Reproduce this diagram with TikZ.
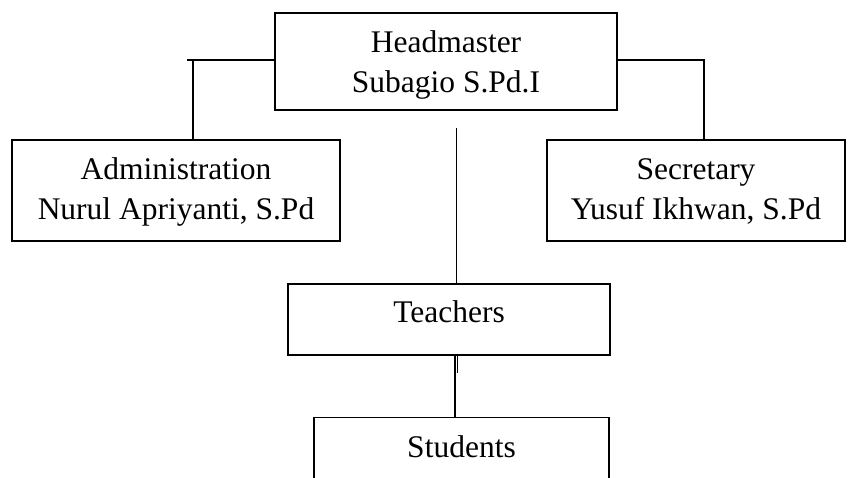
\documentclass[tikz,border=0pt]{standalone}
\usepackage{fontspec}
\setmainfont{Liberation Serif}
\newcommand{\boxtext}[2]{\raisebox{#1}[\height][\depth]{\begin{tabular}{@{}c@{}}#2\end{tabular}}}
\begin{document}
\begin{tikzpicture}[x=1pt,y=-1pt,
  box/.style={draw, line width=1.2pt, inner sep=0pt,
    font=\fontsize{31.5}{40}\selectfont},
  conn/.style={line width=1.2pt}]
\useasboundingbox (0,0) rectangle (851,478);
\clip (0,0) rectangle (851,478);
\node[box, minimum width=342, minimum height=97] (head) at (446,61.5) {\boxtext{-3pt}{Headmaster\\Subagio S.Pd.I}};
\node[box, minimum width=328, minimum height=101] (admin) at (176,190.5) {\boxtext{-1.5pt}{Administration\\Nurul Apriyanti, S.Pd}};
\node[box, minimum width=298, minimum height=101] (secr) at (696,190.5) {\boxtext{-1.5pt}{Secretary\\Yusuf Ikhwan, S.Pd}};
\node[box, minimum width=322, minimum height=71] (teach) at (449,319.5) {\boxtext{4.5pt}{Teachers}};
\node[box, minimum width=295, minimum height=120, anchor=north,
  label={[anchor=base, yshift=-40, font=\fontsize{31.5}{40}\selectfont]north:Students}] (stud) at (461.5,417) {};
\coordinate (lstub) at (187,60);
\coordinate (lc) at (193,60);
\coordinate (rc) at (704,60);
\coordinate (ctop) at (456.5,128);
\coordinate (clow) at (455,373);
\coordinate (dbl) at (457.5,373);
\draw[conn] (lstub) -- (lstub -| head.west);
\draw[conn] (lc) -- (lc |- admin.north);
\draw[conn] (rc -| head.east) -- (rc) -- (rc |- secr.north);
\draw[conn] (ctop) -- (ctop |- teach.north);
\draw[conn] (clow |- teach.south) -- (clow |- stud.north);
\draw[conn] (dbl |- teach.south) -- (dbl);
\end{tikzpicture}
\end{document}
